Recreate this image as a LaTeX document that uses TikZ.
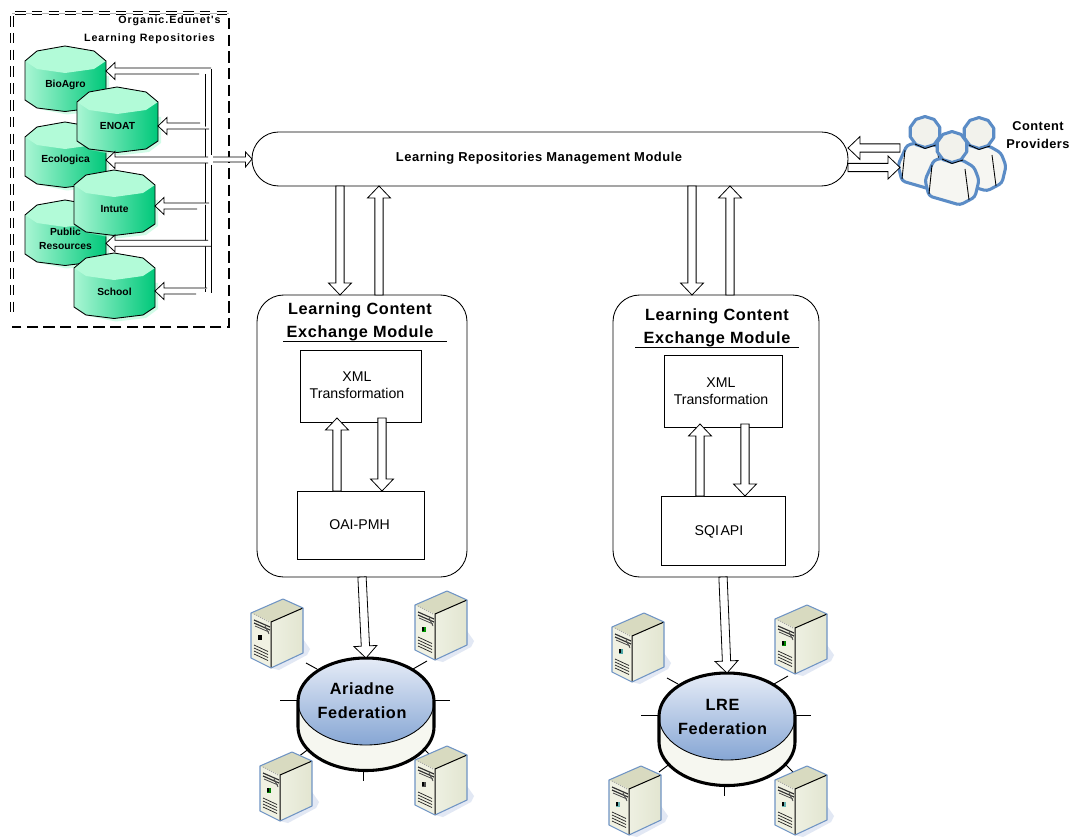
\documentclass[tikz,border=0pt]{standalone}
\usepackage{fontspec}
\setmainfont{Liberation Sans}
\newfontfamily\lsA[LetterSpace=4]{Liberation Sans}
\newfontfamily\lsB[LetterSpace=9]{Liberation Sans}
\usetikzlibrary{calc,shapes.geometric}
\definecolor{pblue}{HTML}{5B8CC6}
\definecolor{srvblue}{HTML}{6F94C4}
\definecolor{cylL}{RGB}{170,246,212}
\definecolor{cylR}{RGB}{0,200,122}
\definecolor{cylT}{RGB}{178,251,216}
\definecolor{srvShadow}{RGB}{226,232,244}
\definecolor{srvFront}{RGB}{240,241,226}
\definecolor{srvSideL}{RGB}{238,240,226}
\definecolor{srvSideR}{RGB}{226,229,208}
\definecolor{srvTop}{RGB}{216,218,192}
\definecolor{fedBody}{RGB}{246,247,240}
\definecolor{fedTopC}{RGB}{230,236,247}
\definecolor{fedBotC}{RGB}{134,166,212}
\definecolor{pBody}{RGB}{246,246,242}
\definecolor{pHead}{RGB}{242,242,236}
\tikzset{
  thin line/.style={line width=0.6pt,draw=black},
  hollow/.style={line width=0.6pt,draw=black,fill=white,line join=miter},
  plainbox/.style={draw=black,line width=0.65pt,fill=white,inner sep=0pt,outer sep=0pt},
  boxtext/.style={align=center,inner sep=0pt,font=\fontsize{10.6}{12.4}\selectfont},
  module/.style={draw=black,line width=0.65pt,fill=white,rounded corners=20pt,inner sep=0pt,outer sep=0pt},
  title/.style={align=center,inner sep=0pt,font=\lsA\bfseries\fontsize{12.2}{17.2}\selectfont},
  fedtext/.style={align=center,inner sep=0pt,font=\lsA\bfseries\fontsize{12.2}{18}\selectfont},
  cyltext/.style={align=center,inner sep=0pt,outer sep=0pt,font=\bfseries\fontsize{7.7}{10.5}\selectfont},
  spoke/.style={line width=0.7pt,draw=black},
}
\newcommand\harrow[2]{%
  \coordinate (ha) at #1; \coordinate (hc) at #2;
  \coordinate (hb) at ($(hc)!9pt!(ha)$);
  \draw[hollow] ($(ha)!3.1pt!90:(hb)$) -- ($(hb)!3.1pt!-90:(ha)$) -- ($(hb)!8.6pt!-90:(ha)$) -- (hc)
    -- ($(hb)!8.6pt!90:(ha)$) -- ($(hb)!3.1pt!90:(ha)$) -- ($(ha)!3.1pt!-90:(hb)$) -- cycle;}
\newcommand\busarrow[3]{%
  \coordinate (tp) at #1;
  \filldraw[hollow] ($(tp)+(#2,-3)$) -- ($(tp)+(9,-3)$) -- ($(tp)+(9,-8.5)$) -- (tp)
    -- ($(tp)+(9,8.5)$) -- ($(tp)+(9,3)$) -- ($(tp)+(#3,3)$);}
\newcommand\cyl[5]{% name, left, top, text y, label
  \begin{scope}[shift={(#2,#3)}]
    \fill[cylT,opacity=.6] (14,63) -- (42,68.5) -- (72,65) -- (84,56) -- (84,30) -- (81,30) -- (60,60) -- cycle;
    \path[left color=cylL,right color=cylR]
      (0,15) -- (12,5) -- (40,0) -- (69,5) -- (81,15) -- (81,54) -- (69,62) -- (40,65.5) -- (12,62) -- (0,54) -- cycle;
    \fill[cylT] (0,15) -- (12,5) -- (40,0) -- (69,5) -- (81,15) -- (69,23) -- (40,27) -- (12,23) -- cycle;
    \draw[line width=.65pt,line join=round] (0,15) -- (12,5) -- (40,0) -- (69,5) -- (81,15) -- (81,54) -- (69,62) -- (40,65.5) -- (12,62) -- (0,54) -- cycle;
  \end{scope}
  \node[cyltext,minimum width=81*.75pt] (#1) at (#2+40.5,#4) {#5};}
\newcommand\server[3]{% x, y, icon colour
  \begin{scope}[shift={(#1,#2)}]
    \fill[srvShadow] (-12,69) -- (20,54) -- (20,40) -- (27,50) -- (24,56) -- (-4,71) -- cycle;
    \fill[srvFront] (-32,14) -- (-12,23) -- (-12,69) -- (-32,59) -- cycle;
    \path[left color=srvSideL,right color=srvSideR] (-12,23) -- (20,9) -- (20,54) -- (-12,69) -- cycle;
    \fill[srvTop] (0,0) -- (20,9) -- (-12,23) -- (-32,14) -- cycle;
    \draw[gray!70,densely dotted,line width=.7pt] (-29,15) -- (-14,23);
    \draw[black!80,line width=.9pt] (-29,21) -- (-13,28) (-29,24) -- (-13,31);
    \draw[black!70,line width=.6pt] (-28,27) -- (-14,33) (-18,27) -- (-14,35);
    \fill[#3] (-25,36) rectangle (-21,41);
    \fill[black] (-25,36) rectangle (-23.4,40);
    \draw[black!85,line width=.55pt] (-29,46) -- (-15,52.5) (-29,49) -- (-15,55.5) (-29,52) -- (-15,58.5) (-29,55) -- (-15,61.5);
    \draw[line width=.75pt] (20,9) -- (-12,23) -- (-12,69);
    \draw[srvblue,line width=.8pt,line join=round] (0,0) -- (20,9) -- (20,54) -- (-12,69) -- (-32,59) -- (-32,14) -- cycle;
  \end{scope}}
\newcommand\fed[3]{% name, cx, top
  \begin{scope}[shift={(#2,#3)}]
    \foreach \a/\b/\c/\d in {-60/5/-49/11,-86/42/-68/42,68/42/84/42,47/11/61/3,-56/90/-68/99,57/90/66/99,-3/114/-3/123}
      {\draw[spoke] (\a,\b) -- (\c,\d);}
    \fill[fedBody] (-68,43.5) arc[start angle=180,end angle=360,x radius=68,y radius=43.5] -- (68,69) arc[start angle=0,end angle=180,x radius=68,y radius=43.5] -- cycle;
    \path[top color=fedTopC,bottom color=fedBotC] (0,43.5) ellipse [x radius=68,y radius=43.5];
    \draw[line width=.65pt] (-68,43.5) arc[start angle=180,end angle=0,x radius=68,y radius=43.5];
    \draw[line width=2.3pt,line join=round] (-68,43.5) arc[start angle=180,end angle=360,x radius=68,y radius=43.5] -- (68,69) arc[start angle=0,end angle=180,x radius=68,y radius=43.5] -- cycle;
  \end{scope}
  \coordinate (#1) at (#2,#3);}
\newcommand\person[2]{%
  \begin{scope}[shift={(#1,#2)}]
    \filldraw[draw=pblue,line width=2.3pt,fill=pBody,rounded corners=2.5pt,line join=round]
      (-8,11) -- (-18,13) -- (-27,33) -- (-23,49) -- (8,58) -- (23,50) -- (27,33) -- (22,20) -- (10,13) -- cycle;
    \draw[line width=.65pt] (-20,18) -- (-23,47) (13,22) -- (17,53);
    \filldraw[draw=pblue,line width=2.3pt,fill=pHead,line join=round] plot[samples=11,domain=18:378] ({15.5*cos(\x)},{15.5*sin(\x)}) -- cycle;
    \draw[line width=.65pt] (-10,12) -- (0,16.5) -- (11,13);
  \end{scope}}
\begin{document}
\begin{tikzpicture}[x=0.75pt,y=-0.75pt]
\useasboundingbox (0,0) rectangle (1073,837);
\fill[white] (0,0) rectangle (1073,837);

% repository group frame
\draw[gray!60,line width=.6pt] (12,13) -- (229,13);
\foreach \w/\c in {2.7pt/black,1.3pt/white}{
  \draw[\c,line width=\w,dash pattern=on 8pt off 4.6pt] (12,16) -- (12,318);
  \draw[\c,line width=\w,dash pattern=on 8pt off 4.6pt] (15,13) -- (229,13);}
\draw[line width=2pt,dash pattern=on 8.5pt off 4pt] (229,18) -- (229,327) -- (12,327);
\node[inner sep=0pt,font=\lsB\bfseries\fontsize{8}{9}\selectfont] (orgtitle) at (169.5,21) {Organic.Edunet's};
\node[inner sep=0pt,font=\lsB\bfseries\fontsize{8}{9}\selectfont] (orgtitleb) at (149.5,39) {Learning Repositories};

% bus
\draw[thin line] (205.5,74) -- (205.5,292);
\draw[thin line] (211,69) -- (211,155) (211,165) -- (211,293);

% repositories (bottom to top in stacking order)
\cyl{bio}{25}{46}{85}{BioAgro}
\cyl{eco}{25}{122}{160}{Ecologica}
\cyl{pub}{25}{200}{239}{Public\\Resources}
\cyl{eno}{77}{87}{126}{ENOAT}
\cyl{sch}{74}{253}{292}{School}
\cyl{int}{74}{170}{209}{Intute}

\busarrow{([yshift=10.5pt]bio.east)}{105}{93}
\busarrow{(eno.east)}{42}{51}
\busarrow{(eco.east)}{102}{102}
\busarrow{([yshift=2.25pt]int.east)}{54}{42}
\busarrow{([yshift=-3.25pt]pub.east)}{102}{105}
\busarrow{([yshift=.75pt]sch.east)}{52}{41}

% management module
\node[module,minimum width=596*.75pt,minimum height=54*.75pt] (mgmt) at (550,159) {};
\node[inner sep=0pt,font=\lsA\bfseries\fontsize{9.7}{11}\selectfont] (mgmttext) at (539,158) {Learning Repositories Management Module};

% arrow out of the group
\filldraw[hollow] (213,157) -- (245.5,157) -- (245.5,152) -- (mgmt.west) -- (245.5,167) -- (245.5,162) -- (213,162);

% exchange modules
\node[module,minimum width=210*.75pt,minimum height=282*.75pt] (lce1) at (362,436) {};
\node[module,minimum width=206*.75pt,minimum height=282*.75pt] (lce2) at (716,436) {};
\node[title] (t1) at (360,322) {Learning Content\\Exchange Module};
\node[title] (t2) at (717,328) {Learning Content\\Exchange Module};
\draw[thin line] (283,341) -- (447,341);
\draw[thin line] (635,347) -- (799,347);
\node[plainbox,minimum width=121*.75pt,minimum height=72*.75pt] (xml1) at (360.5,386) {};
\node[boxtext] (xml1t) at (357,385) {XML\\Transformation};
\node[plainbox,minimum width=127*.75pt,minimum height=68*.75pt] (oai) at (360.5,525) {};
\node[boxtext] (oait) at (359.5,525) {OAI-PMH};
\node[plainbox,minimum width=118*.75pt,minimum height=72*.75pt] (xml2) at (723,391) {};
\node[boxtext] (xml2t) at (721,391) {XML\\Transformation};
\node[plainbox,minimum width=124*.75pt,minimum height=69*.75pt] (sqi) at (723,530.5) {};
\node[boxtext] (sqit) at (719,531.5) {SQI\hspace{.1em}API};

% vertical connectors
\harrow{([xshift=-210*.75pt]mgmt.south)}{([xshift=-22*.75pt]lce1.north)}
\harrow{([xshift=17*.75pt]lce1.north)}{([xshift=-171*.75pt]mgmt.south)}
\harrow{([xshift=142*.75pt]mgmt.south)}{([xshift=-24*.75pt]lce2.north)}
\harrow{([xshift=14*.75pt]lce2.north)}{([xshift=180*.75pt]mgmt.south)}
\harrow{([xshift=-23.5*.75pt]oai.north)}{([xshift=-23.5*.75pt,yshift=4*.75pt]xml1.south)}
\harrow{([xshift=21.5*.75pt,yshift=4*.75pt]xml1.south)}{([xshift=21.5*.75pt]oai.north)}
\harrow{([xshift=-23*.75pt]sqi.north)}{([xshift=-23*.75pt,yshift=3*.75pt]xml2.south)}
\harrow{([xshift=22*.75pt,yshift=3*.75pt]xml2.south)}{([xshift=22*.75pt]sqi.north)}

% federations
\fed{fedA}{366}{658}
\fed{fedB}{727}{673}
\node[fedtext] (fedAt) at (362,701) {Ariadne\\Federation};
\node[fedtext] (fedBt) at (722.5,717) {LRE\\Federation};
\harrow{(lce1.south)}{(fedA)}
\harrow{([xshift=361*.75pt]lce1.south)}{(fedB)}

% servers
\server{283}{599}{black}
\server{447}{591}{green!60!black}
\server{292}{752}{green!50!black}
\server{447}{746}{black!70}
\server{644}{613}{teal!70}
\server{807}{605}{green!50!black}
\server{641}{766}{teal!60}
\server{807}{766}{teal!60}

% content providers
\person{925}{132}
\person{979}{133}
\person{952}{147}
\coordinate (cpA) at (900,148);
\coordinate (cpB) at (900,167.5);
\harrow{(cpA)}{(mgmt.east |- cpA)}
\harrow{(mgmt.east |- cpB)}{(cpB)}
\node[align=center,inner sep=0pt,font=\lsA\bfseries\fontsize{9.6}{13.5}\selectfont] (cp) at (1038,135) {Content\\Providers};
\end{tikzpicture}
\end{document}
